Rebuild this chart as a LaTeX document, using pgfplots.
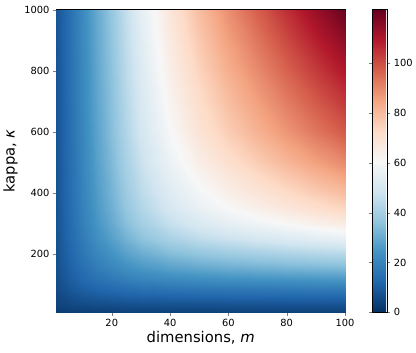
\documentclass[border=0pt]{standalone}
\usepackage{fontspec}
\setmainfont{DejaVu Sans}
\usepackage{pgfplots}
\pgfplotsset{compat=1.18}

\begin{document}
\begin{tikzpicture}

\pgfplotsset{
  colormap={rdbur}{
    rgb255=(5,48,97) rgb255=(33,102,172) rgb255=(67,147,195)
    rgb255=(146,197,222) rgb255=(209,229,240) rgb255=(247,247,247)
    rgb255=(253,219,199) rgb255=(244,165,130) rgb255=(214,96,77)
    rgb255=(178,24,43) rgb255=(103,0,31)
  }
}

\begin{axis}[
scale only axis,
width=293pt, height=307pt,
xmin=1, xmax=100,
ymin=10, ymax=1000,
xtick={20,40,60,80,100},
ytick={200,400,600,800,1000},
tick align=outside,
tick pos=left,
major tick length=3.5pt,
ticklabel style={font=\fontsize{10}{12}\selectfont},
/pgf/number format/assume math mode=true,
/pgf/number format/1000 sep={},
xlabel={dimensions, \textit{m}},
ylabel={kappa, \textit{κ}},
label style={font=\fontsize{15}{17}\selectfont},
xlabel style={yshift=2pt},
axis line style={line width=0.8pt},
point meta min=0, point meta max=121.5,
colormap name=rdbur,
colorbar,
colorbar style={
  scale only axis,
  width=15pt, height=307pt,
  at={(parent axis.north east)}, anchor=north west, xshift=19pt,
  ytick={0,20,40,60,80,100},
  yticklabel pos=right,
  tick align=outside,
  major tick length=3.5pt,
  ticklabel style={font=\fontsize{10}{12}\selectfont},
  /pgf/number format/assume math mode=true,
  axis line style={line width=0.8pt},
},
]
\addplot[surf, shader=interp, mesh/cols=15, point meta=explicit] coordinates {
(1,10) [2.73] (3,10) [3.01] (6,10) [3.27] (10,10) [3.48] (15,10) [3.63] (20,10) [3.73] (25,10) [3.80] (30,10) [3.85] (40,10) [3.90] (50,10) [3.93] (60,10) [3.95] (70,10) [3.97] (80,10) [3.98] (90,10) [3.99] (100,10) [4.00]
(1,40) [4.32] (3,40) [5.06] (6,40) [5.84] (10,40) [6.58] (15,40) [7.13] (20,40) [7.50] (25,40) [7.79] (30,40) [8.01] (40,40) [8.25] (50,40) [8.39] (60,40) [8.48] (70,40) [8.55] (80,40) [8.61] (90,40) [8.66] (100,40) [8.70]
(1,80) [5.63] (3,80) [6.96] (6,80) [8.53] (10,80) [10.18] (15,80) [11.59] (20,80) [12.59] (25,80) [13.44] (30,80) [14.09] (40,80) [14.85] (50,80) [15.31] (60,80) [15.63] (70,80) [15.87] (80,80) [16.07] (90,80) [16.25] (100,80) [16.39]
(1,120) [6.41] (3,120) [8.21] (6,120) [10.48] (10,120) [13.09] (15,120) [15.50] (20,120) [17.35] (25,120) [19.01] (30,120) [20.32] (40,120) [21.94] (50,120) [22.98] (60,120) [23.70] (70,120) [24.26] (80,120) [24.73] (90,120) [25.14] (100,120) [25.50]
(1,160) [6.85] (3,160) [8.95] (6,160) [11.71] (10,160) [15.07] (15,160) [18.37] (20,160) [21.03] (25,160) [23.51] (30,160) [25.55] (40,160) [28.16] (50,160) [29.90] (60,160) [31.12] (70,160) [32.10] (80,160) [32.94] (90,160) [33.67] (100,160) [34.31]
(1,200) [7.16] (3,200) [9.47] (6,200) [12.62] (10,200) [16.62] (15,200) [20.71] (20,200) [24.15] (25,200) [27.49] (30,200) [30.32] (40,200) [34.07] (50,200) [36.64] (60,200) [38.51] (70,200) [40.02] (80,200) [41.32] (90,200) [42.48] (100,200) [43.50]
(1,250) [7.42] (3,250) [9.93] (6,250) [13.46] (10,250) [18.09] (15,250) [23.05] (20,250) [27.40] (25,250) [31.78] (30,250) [35.63] (40,250) [40.92] (50,250) [44.68] (60,250) [47.48] (70,250) [49.80] (80,250) [51.84] (90,250) [53.68] (100,250) [55.31]
(1,300) [7.58] (3,300) [10.22] (6,300) [13.99] (10,300) [19.08] (15,300) [24.68] (20,300) [29.74] (25,300) [34.95] (30,300) [39.67] (40,300) [46.34] (50,300) [51.23] (60,300) [54.95] (70,300) [58.07] (80,300) [60.86] (90,300) [63.41] (100,300) [65.70]
(1,350) [7.68] (3,350) [10.40] (6,350) [14.34] (10,350) [19.73] (15,350) [25.77] (20,350) [31.34] (25,350) [37.19] (30,350) [42.57] (40,350) [50.35] (50,350) [56.18] (60,350) [60.68] (70,350) [64.52] (80,350) [67.98] (90,350) [71.17] (100,350) [74.07]
(1,400) [7.73] (3,400) [10.51] (6,400) [14.54] (10,400) [20.10] (15,400) [26.42] (20,400) [32.30] (25,400) [38.55] (30,400) [44.37] (40,400) [52.88] (50,400) [59.35] (60,400) [64.39] (70,400) [68.73] (80,400) [72.67] (90,400) [76.34] (100,400) [79.68]
(1,500) [7.82] (3,500) [10.66] (6,500) [14.84] (10,500) [20.69] (15,500) [27.44] (20,500) [33.84] (25,500) [40.77] (30,500) [47.33] (40,500) [57.14] (50,500) [64.77] (60,500) [70.82] (70,500) [76.10] (80,500) [80.97] (90,500) [85.54] (100,500) [89.77]
(1,600) [7.88] (3,600) [10.77] (6,600) [15.06] (10,600) [21.11] (15,600) [28.19] (20,600) [34.99] (25,600) [42.44] (30,600) [49.60] (40,600) [60.50] (50,600) [69.11] (60,600) [76.05] (70,600) [82.17] (80,600) [87.87] (90,600) [93.28] (100,600) [98.33]
(1,700) [7.91] (3,700) [10.84] (6,700) [15.18] (10,700) [21.36] (15,700) [28.64] (20,700) [35.68] (25,700) [43.46] (30,700) [50.99] (40,700) [62.58] (50,700) [71.84] (60,700) [79.37] (70,700) [86.06] (80,700) [92.34] (90,700) [98.33] (100,700) [103.95]
(1,800) [7.95] (3,800) [10.90] (6,800) [15.30] (10,800) [21.59] (15,800) [29.05] (20,800) [36.32] (25,800) [44.42] (30,800) [52.33] (40,800) [64.60] (50,800) [74.52] (60,800) [82.64] (70,800) [89.93] (80,800) [96.81] (90,800) [103.41] (100,800) [109.65]
(1,900) [7.97] (3,900) [10.95] (6,900) [15.41] (10,900) [21.81] (15,900) [29.44] (20,900) [36.93] (25,900) [45.33] (30,900) [53.59] (40,900) [66.53] (50,900) [77.10] (60,900) [85.84] (70,900) [93.72] (80,900) [101.21] (90,900) [108.46] (100,900) [115.34]
(1,1000) [8.00] (3,1000) [11.00] (6,1000) [15.50] (10,1000) [22.00] (15,1000) [29.80] (20,1000) [37.50] (25,1000) [46.20] (30,1000) [54.80] (40,1000) [68.40] (50,1000) [79.60] (60,1000) [89.00] (70,1000) [97.50] (80,1000) [105.60] (90,1000) [113.50] (100,1000) [121.00]
};
\end{axis}
\path (-57pt,-41pt) rectangle (359pt,317pt);
\end{tikzpicture}
\end{document}
